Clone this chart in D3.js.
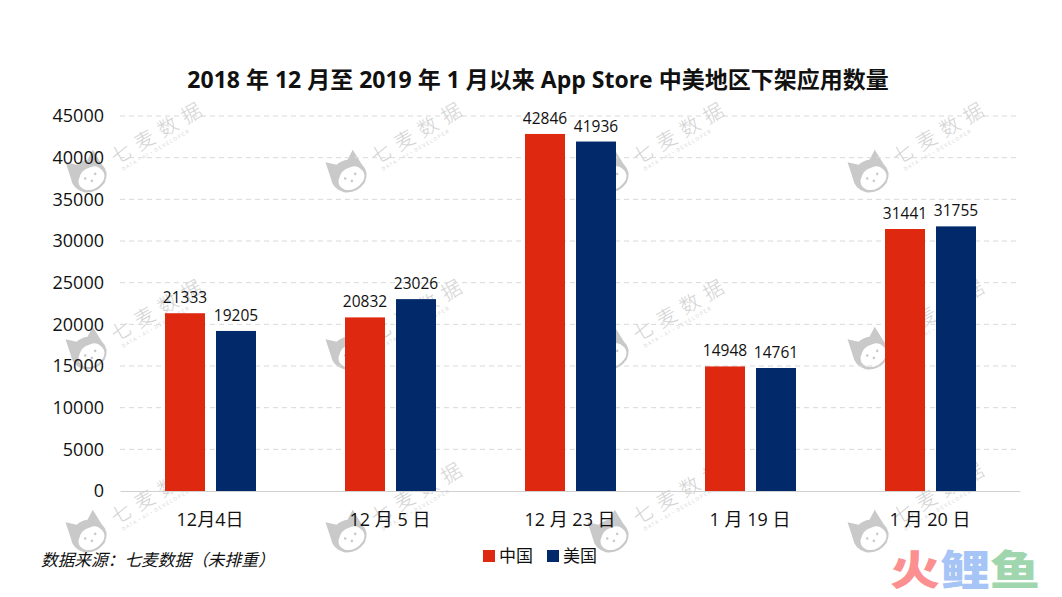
<!DOCTYPE html>
<html>
<head>
<meta charset="utf-8">
<script src="https://cdnjs.cloudflare.com/ajax/libs/d3/7.8.5/d3.min.js"></script>
<style>
  html, body { margin: 0; padding: 0; background: #fff; }
  svg { display: block; }
  text { font-family: "Noto Sans CJK SC", "Noto Sans", sans-serif; fill: #111; }
  .num text, text.num { font-family: "Open Sans", "Noto Sans CJK SC", sans-serif; }
</style>
</head>
<body>
<div id="chart"></div>
<script>
const categories = ["12月4日", "12 月 5 日", "12 月 23 日", "1 月 19 日", "1 月 20 日"]
const seriesNames = ["中国", "美国"]
const china = [21333, 20832, 42846, 14948, 31441]
const usa = [19205, 23026, 41936, 14761, 31755]
const yTicks = [0, 5000, 10000, 15000, 20000, 25000, 30000, 35000, 40000, 45000]
const colors = ["#de2910", "#022a6b"]
const logoChars = ["火", "鲤", "鱼"]
const logoColors = ["#fc8f8f", "#a6c4f5", "#a0d6ae"]

const width = 1062, height = 597
const margin = { top: 116, right: 42, bottom: 106, left: 120 }

const svg = d3.select("#chart").append("svg")
    .attr("width", width)
    .attr("height", height)

const x = d3.scaleBand()
    .domain(categories)
    .range([margin.left, width - margin.right])

const x1 = d3.scaleBand()
    .domain(seriesNames)
    .range([x.bandwidth() / 2 - 45, x.bandwidth() / 2 + 46])
    .paddingInner(0.2157)

const y = d3.scaleLinear()
    .domain([0, 45000])
    .range([height - margin.bottom, margin.top])

// watermarks, under everything else
const wmX = [88, 348, 610, 870]
const wmY = [175, 352, 535]
const catPath = "M-17,-4 L-15,-21 L-6,-14 Q0,-16 6,-14 L15,-21 L17,-4 Q21,6 12,14 Q0,21 -11,14 Q-20,6 -17,-4 Z"
const facePath = "M-11,1 Q-4,-8 4,-6 Q12,-7 15,2 Q17,9 9,13 Q-1,18 -9,12 Q-14,7 -11,1 Z"
const wm = svg.append("g").style("pointer-events", "none")
wmY.forEach(wy => wmX.forEach(wx => {
    const g = wm.append("g")
        .attr("transform", `translate(${wx},${wy})`)
    const cat = g.append("g").attr("transform", "rotate(-25)")
    cat.append("path").attr("d", catPath).attr("fill", "#c9c9c9")
    cat.append("path").attr("d", facePath).attr("fill", "#fff")
    cat.selectAll("circle")
        .data([[-4, 2], [7, 2], [1, 7]])
        .enter().append("circle")
        .attr("cx", d => d[0])
        .attr("cy", d => d[1])
        .attr("r", 1.3)
        .attr("fill", "#c9c9c9")
    g.append("text")
        .attr("transform", "translate(28,-10) rotate(-30)")
        .style("font-size", "20px")
        .style("font-weight", 300)
        .style("letter-spacing", "7px")
        .style("fill", "#d2d2d2")
        .text("七麦数据")
    g.append("text")
        .attr("transform", "translate(35,-4) rotate(-30)")
        .style("font-size", "5px")
        .style("letter-spacing", "1.4px")
        .style("fill", "#d8d8d8")
        .text("DATA·AI·DEVELOPER")
}))

// grid
svg.append("g").selectAll("line")
    .data(yTicks.slice(1))
    .enter().append("line")
    .attr("x1", margin.left)
    .attr("x2", width - margin.right)
    .attr("y1", d => y(d))
    .attr("y2", d => y(d))
    .attr("stroke", "#d9d9d9")
    .attr("stroke-dasharray", "5 4")

// bars
const series = seriesNames.map((name, i) => ({ name, color: colors[i], values: i === 0 ? china : usa }))
const groups = svg.selectAll(".series")
    .data(series)
    .enter().append("g")
    .attr("class", "series")
    .attr("fill", d => d.color)

groups.selectAll("rect")
    .data(d => d.values.map((v, i) => ({ name: d.name, cat: categories[i], v })))
    .enter().append("rect")
    .attr("x", d => x(d.cat) + x1(d.name))
    .attr("y", d => y(d.v))
    .attr("width", x1.bandwidth())
    .attr("height", d => y(0) - y(d.v))

groups.selectAll("text")
    .data(d => d.values.map((v, i) => ({ name: d.name, cat: categories[i], v })))
    .enter().append("text")
    .attr("class", "num")
    .attr("x", d => x(d.cat) + x1(d.name) + x1.bandwidth() / 2)
    .attr("y", d => y(d.v) - 10)
    .attr("text-anchor", "middle")
    .style("font-size", "15.5px")
    .text(d => d.v)

// axes
const yAxis = svg.append("g")
    .attr("class", "num")
    .attr("transform", `translate(${margin.left - 16},0)`)
    .call(d3.axisLeft(y).tickValues(yTicks).tickFormat(d => d).tickSize(0).tickPadding(0))
yAxis.select(".domain").remove()
yAxis.selectAll("text").style("font-size", "18px").attr("fill", "#111")

const xAxis = svg.append("g")
    .attr("transform", `translate(0,${y(0)})`)
    .call(d3.axisBottom(x).tickSize(0).tickPadding(22))
xAxis.select(".domain").attr("stroke", "#d0d0d0")
xAxis.selectAll("text")
    .style("font-size", "18px")
    .style("font-family", '"Open Sans", "Noto Sans CJK SC", sans-serif')
    .attr("fill", "#111")

// title
svg.append("text")
    .attr("x", 538)
    .attr("y", 88)
    .attr("text-anchor", "middle")
    .style("font-size", "23px")
    .style("font-weight", 700)
    .style("font-family", '"Open Sans", "Noto Sans CJK SC", sans-serif')
    .text("2018 年 12 月至 2019 年 1 月以来 App Store 中美地区下架应用数量")

// legend
const legend = svg.selectAll(".legend")
    .data(seriesNames)
    .enter().append("g")
    .attr("class", "legend")
    .attr("transform", (d, i) => `translate(${483 + i * 64},550)`)
legend.append("rect")
    .attr("width", 12)
    .attr("height", 12)
    .attr("fill", (d, i) => colors[i])
legend.append("text")
    .attr("x", 16)
    .attr("y", 12)
    .style("font-size", "17px")
    .text(d => d)

// source
svg.append("text")
    .attr("x", 41)
    .attr("y", 566)
    .style("font-size", "16.7px")
    .style("font-style", "italic")
    .text("数据来源：七麦数据（未排重）")

// site logo
svg.selectAll(".logo")
    .data(logoChars)
    .enter().append("text")
    .attr("class", "logo")
    .attr("transform", (d, i) => `translate(${890 + i * 50},585) scale(1.22,1)`)
    .style("font-size", "41px")
    .style("font-weight", 900)
    .style("fill", (d, i) => logoColors[i])
    .text(d => d)
</script>
</body>
</html>
